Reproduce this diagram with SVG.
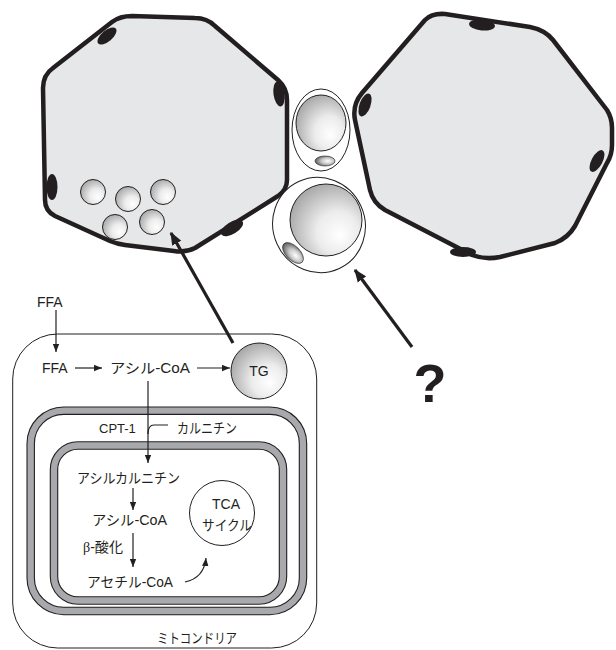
<svg xmlns="http://www.w3.org/2000/svg" width="616" height="650" viewBox="0 0 616 650">
  <style>
    .cell { fill: #e6e7e8; stroke: #231f20; stroke-width: 4.5; stroke-linejoin: round; }
    .nuc { fill: #231f20; }
    .drop { fill: url(#dropGrad); stroke: #231f20; stroke-width: 1; }
    .thin { fill: none; stroke: #231f20; stroke-width: 1; }
    .mem-edge { fill: none; stroke: #231f20; stroke-width: 8.5; }
    .mem-fill { fill: none; stroke: #a7a9ac; stroke-width: 6.3; }
    .conn { fill: none; stroke: #231f20; stroke-width: 1.2; }
    .thick { fill: none; stroke: #231f20; stroke-width: 3.2; }
    .lbl { font-family: "Liberation Sans", "Noto Sans CJK JP", sans-serif; font-size: 14px; fill: #231f20; }
    .mid { text-anchor: middle; }
  </style>
  <defs>
    <radialGradient id="dropGrad" cx="0.62" cy="0.62" r="0.65" fx="0.7" fy="0.72">
      <stop offset="0" stop-color="#ffffff"/>
      <stop offset="0.45" stop-color="#ececec"/>
      <stop offset="1" stop-color="#a9a9a9"/>
    </radialGradient>
    <radialGradient id="nucGrad" cx="0.6" cy="0.5" r="0.6" fx="0.65" fy="0.5">
      <stop offset="0" stop-color="#ffffff"/>
      <stop offset="0.5" stop-color="#c8c8c8"/>
      <stop offset="1" stop-color="#5a5a5a"/>
    </radialGradient>
    <marker id="ah" viewBox="0 0 10 8" refX="10" refY="4" markerWidth="8" markerHeight="7" markerUnits="userSpaceOnUse" orient="auto">
      <path d="M0,0 L10,4 L0,8 Z" fill="#231f20"/>
    </marker>
    <marker id="ahBig" viewBox="0 0 10 8" refX="9" refY="4" markerWidth="13" markerHeight="11" markerUnits="userSpaceOnUse" orient="auto">
      <path d="M0,0 L10,4 L0,8 Z" fill="#231f20"/>
    </marker>
  </defs>

  <!-- left fat cell with small droplets -->
  <g id="cell-left">
    <path class="cell" d="M132,16 L195,18 Q207,18 215,26 L278,80 Q287,88 287,100 L287,180 Q287,190 278,196 L195,248 Q185,253 174,251 L125,245 Q117,244 110,241 L55,216 Q45,211 45,200 L43,88 Q43,75 53,68 L112,22 Q120,16 132,16 Z"/>
    <ellipse class="nuc" cx="107" cy="36" rx="11.5" ry="5.5" transform="rotate(-40 107 36)"/>
    <ellipse class="nuc" cx="279" cy="94" rx="5.5" ry="12.5" transform="rotate(-8 279 94)"/>
    <ellipse class="nuc" cx="52" cy="187" rx="5.5" ry="13"/>
    <ellipse class="nuc" cx="232" cy="228" rx="12.5" ry="6" transform="rotate(-32 232 228)"/>
    <circle class="drop" cx="93" cy="192" r="12.5"/>
    <circle class="drop" cx="128" cy="199" r="12.5"/>
    <circle class="drop" cx="163" cy="192" r="12.5"/>
    <circle class="drop" cx="115" cy="227" r="12.5"/>
    <circle class="drop" cx="152" cy="222" r="12.5"/>
  </g>

  <!-- right fat cell -->
  <g id="cell-right">
    <path class="cell" d="M445,14 L530,27 Q545,30 553,40 L607,110 Q612,118 612,128 L612,145 Q612,155 607,163 L575,226 Q568,238 555,243 L500,257 Q485,260 472,255 L385,210 Q373,203 370,190 L355,120 Q352,105 362,93 L425,20 Q432,13 445,14 Z"/>
    <ellipse class="nuc" cx="482" cy="25" rx="13" ry="5.5" transform="rotate(5 482 25)"/>
    <ellipse class="nuc" cx="365" cy="105" rx="5.5" ry="12" transform="rotate(20 365 105)"/>
    <ellipse class="nuc" cx="597" cy="161" rx="5.5" ry="12" transform="rotate(28 597 161)"/>
    <ellipse class="nuc" cx="463" cy="252" rx="13" ry="5"/>
  </g>

  <!-- small precursor cell -->
  <g id="cell-small">
    <ellipse class="thin" cx="321" cy="130" rx="29" ry="41" style="fill:#fff"/>
    <ellipse class="drop" cx="321" cy="123" rx="25" ry="28"/>
    <ellipse cx="325" cy="161" rx="10" ry="5" fill="url(#nucGrad)" stroke="#231f20" stroke-width="0.6"/>
  </g>

  <!-- larger precursor cell -->
  <g id="cell-large">
    <ellipse class="thin" cx="319" cy="225" rx="46" ry="48" transform="rotate(-25 319 225)" style="fill:#fff"/>
    <circle class="drop" cx="326" cy="220" r="36"/>
    <ellipse cx="293" cy="253" rx="13" ry="7" transform="rotate(45 293 253)" fill="url(#nucGrad)" stroke="#231f20" stroke-width="0.6"/>
  </g>

  <!-- cell interior scheme -->
  <g id="cytoplasm">
    <rect class="thin" x="12.7" y="334" width="304" height="314" rx="45" ry="45"/>
    <text class="lbl" x="157" y="643" textLength="80" lengthAdjust="spacingAndGlyphs">ミトコンドリア</text>
  </g>
  <g id="mito-outer">
    <rect class="mem-edge" x="30.7" y="410.7" width="272.3" height="200.3" rx="33" ry="33"/>
    <rect class="mem-fill" x="30.7" y="410.7" width="272.3" height="200.3" rx="33" ry="33"/>
  </g>
  <g id="mito-inner">
    <rect class="mem-edge" x="54" y="445.5" width="229" height="155" rx="24" ry="24"/>
    <rect class="mem-fill" x="54" y="445.5" width="229" height="155" rx="24" ry="24"/>
  </g>

  <g id="ffa-out"><text class="lbl" x="37" y="307">FFA</text></g>
  <g id="ffa-in"><text class="lbl" x="42" y="373">FFA</text></g>
  <g id="acyl-coa"><text class="lbl" x="110" y="373" textLength="80" lengthAdjust="spacingAndGlyphs">アシル-CoA</text></g>
  <g id="tg">
    <circle cx="259" cy="371" r="28" fill="url(#dropGrad)" stroke="#231f20" stroke-width="1"/>
    <text class="lbl mid" x="259" y="376">TG</text>
  </g>
  <g id="cpt1"><text class="lbl" x="99" y="433" style="font-size:13px">CPT-1</text></g>
  <g id="carnitine"><text class="lbl" x="177" y="433" textLength="60" lengthAdjust="spacingAndGlyphs">カルニチン</text></g>
  <g id="acylcarnitine"><text class="lbl" x="77" y="483" textLength="103" lengthAdjust="spacingAndGlyphs">アシルカルニチン</text></g>
  <g id="acyl-coa-mito"><text class="lbl" x="92" y="525" textLength="75" lengthAdjust="spacingAndGlyphs">アシル-CoA</text></g>
  <g id="beta-ox"><text class="lbl" x="83" y="552" textLength="40" lengthAdjust="spacingAndGlyphs"><tspan style="font-family:'Liberation Serif', serif">β</tspan>-酸化</text></g>
  <g id="acetyl-coa"><text class="lbl" x="87" y="587" textLength="86" lengthAdjust="spacingAndGlyphs">アセチル-CoA</text></g>
  <g id="tca">
    <circle class="thin" cx="222" cy="513" r="32.5"/>
    <text class="lbl mid" x="226" y="509">TCA</text>
    <text class="lbl" x="202" y="530" textLength="50" lengthAdjust="spacingAndGlyphs">サイクル</text>
  </g>
  <g id="question"><text x="430" y="402" text-anchor="middle" style="font-family:'Liberation Sans', sans-serif; font-weight:bold; font-size:54px; fill:#231f20">?</text></g>

  <g id="connectors">
    <line class="conn" x1="56" y1="310" x2="56" y2="352" marker-end="url(#ah)"/>
    <line class="conn" x1="75" y1="368" x2="102" y2="368" marker-end="url(#ah)"/>
    <line class="conn" x1="197" y1="368" x2="230" y2="368" marker-end="url(#ah)"/>
    <line class="conn" x1="148" y1="381" x2="148" y2="463" marker-end="url(#ah)"/>
    <path class="conn" d="M148,434 C148,428 149.5,425 154,425 L168,425"/>
    <line class="conn" x1="133" y1="488" x2="133" y2="510" marker-end="url(#ah)"/>
    <line class="conn" x1="133" y1="533" x2="133" y2="567" marker-end="url(#ah)"/>
    <path class="conn" d="M185,582 Q204,578 206,558" marker-end="url(#ah)"/>
    <line class="thick" x1="233" y1="343" x2="171" y2="233" marker-end="url(#ahBig)"/>
    <line class="thick" x1="412" y1="347" x2="355" y2="270" marker-end="url(#ahBig)"/>
  </g>
</svg>
